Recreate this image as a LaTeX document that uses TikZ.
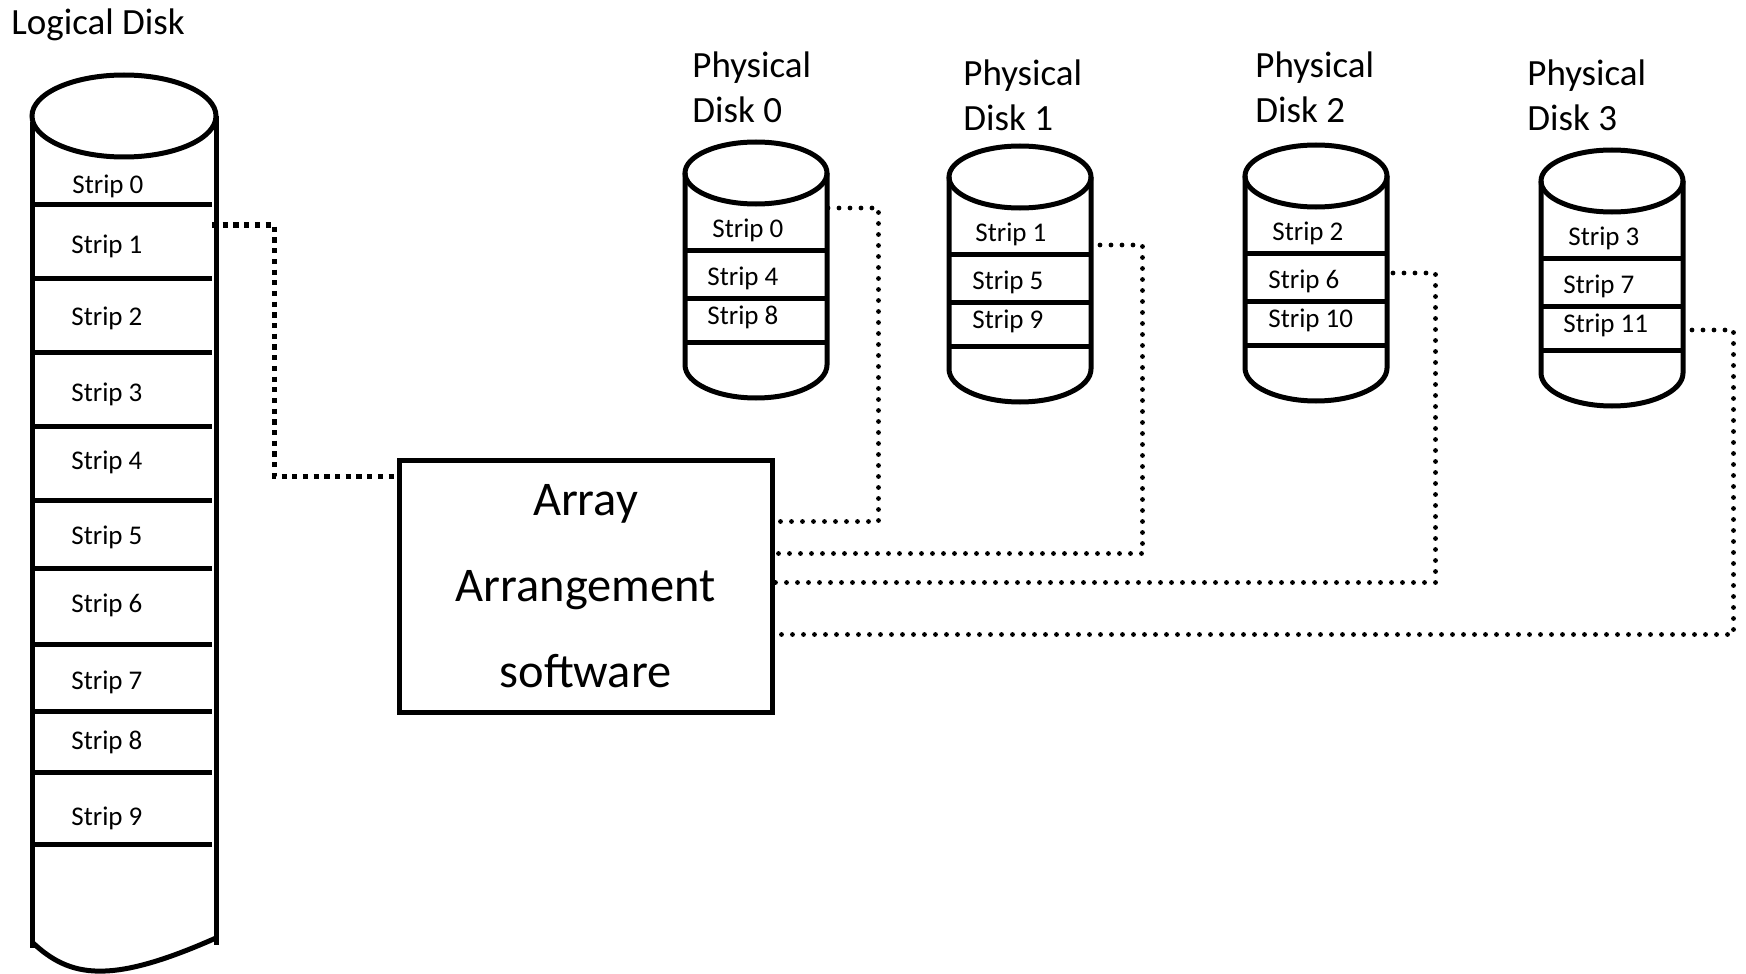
\documentclass[tikz,border=0pt]{standalone}
\usepackage{fontspec}
\setmainfont{Carlito}
\usetikzlibrary{calc}

\tikzset{
  edge/.style={line width=2.5pt},
  strip/.style={font=\fontsize{13.5}{15}\selectfont, anchor=west, inner sep=0pt},
  title/.style={font=\fontsize{18.5}{22.3}\selectfont, align=left, anchor=west, inner sep=0pt},
  dotlink/.style={line width=2.4pt, line cap=round, dash pattern=on 0pt off 5.5pt},
  sqlink/.style={line width=2.7pt, dash pattern=on 2.6pt off 2.75pt},
}

% physical disk: #1 centre x, #2 top of the lid
\newcommand\physdisk[2]{%
  \draw[edge] ({#1},{#2+31}) ellipse [x radius=71, y radius=31];
  \draw[edge] ({#1-71},{#2+31}) -- ({#1-71},{#2+223})
    arc[start angle=180, end angle=0, x radius=71, y radius=33]
    -- ({#1+71},{#2+31});
  \foreach \dy in {108,156,200}
    \draw[edge] ({#1-71},{#2+\dy}) -- ({#1+71},{#2+\dy});
}

\begin{document}
\begin{tikzpicture}[x=0.5pt, y=-0.5pt]
\useasboundingbox (0,0) rectangle (1746,974);

% ---- logical disk ----
\node[title] (ldtitle) at (11,25) {Logical Disk};
\draw[edge] (124,116) ellipse [x radius=92, y radius=41];
\draw[edge] (32,122) -- (32,948);
\draw[edge] (216,116) -- (216,945);
\draw[edge] (32,942) .. controls (70,978) and (110,985) .. (216,938);
\foreach \y in {204,278,352,426,500,568,644,711,772,844}
  \draw[edge] (33,\y) -- (212,\y);
\node[strip] (ls0) at (72,186) {Strip 0};
\node[strip] (ls1) at (71,246) {Strip 1};
\node[strip] (ls2) at (71,318) {Strip 2};
\node[strip] (ls3) at (71,394) {Strip 3};
\node[strip] (ls4) at (71,462) {Strip 4};
\node[strip] (ls5) at (71,537) {Strip 5};
\node[strip] (ls6) at (71,605) {Strip 6};
\node[strip] (ls7) at (71,682) {Strip 7};
\node[strip] (ls8) at (71,742) {Strip 8};
\node[strip] (ls9) at (71,818) {Strip 9};
\coordinate (ldport) at (212,225);

% ---- array arrangement software ----
\node[draw, edge, minimum width=186.5pt, minimum height=126pt, inner sep=0pt,
      align=center, font=\fontsize{24.2}{43}\selectfont]
  (aas) at (585.5,586) {Array\\Arrangement\\software};

% ---- physical disks ----
\node[title] (pd0title) at (692,87) {Physical\\Disk 0};
\physdisk{756}{142}
\node[strip] (p0s0) at (712,230) {Strip 0};
\node[strip] (p0s1) at (707,278) {Strip 4};
\node[strip] (p0s2) at (707,317) {Strip 8};
\coordinate (p0port) at (828,208);

\node[title] (pd1title) at (963,95) {Physical\\Disk 1};
\physdisk{1020}{146}
\node[strip] (p1s0) at (975,234) {Strip 1};
\node[strip] (p1s1) at (972,282) {Strip 5};
\node[strip] (p1s2) at (972,321) {Strip 9};
\coordinate (p1port) at (1100,245);

\node[title] (pd2title) at (1255,87) {Physical\\Disk 2};
\physdisk{1316}{145}
\node[strip] (p2s0) at (1272,233) {Strip 2};
\node[strip] (p2s1) at (1268,281) {Strip 6};
\node[strip] (p2s2) at (1268,320) {Strip 10};
\coordinate (p2port) at (1393,273);

\node[title] (pd3title) at (1527,95) {Physical\\Disk 3};
\physdisk{1612}{150}
\node[strip] (p3s0) at (1568,238) {Strip 3};
\node[strip] (p3s1) at (1563,286) {Strip 7};
\node[strip] (p3s2) at (1563,325) {Strip 11};
\coordinate (p3port) at (1692,330);

% ---- connectors ----
\draw[sqlink] (ldport) -| ($(aas.north west)+(-122,19)$) -- ($(aas.north west)+(0,19)$);
\draw[dotlink] (p0port) -| ($(aas.north east)+(104,64)$) -- ($(aas.north east)+(0,64)$);
\draw[dotlink] (p1port) -| ($(aas.north east)+(368,96)$) -- ($(aas.north east)+(0,96)$);
\draw[dotlink] (p2port) -| ($(aas.north east)+(661,125)$) -- ($(aas.north east)+(0,125)$);
\draw[dotlink] (p3port) -| ($(aas.north east)+(959,177)$) -- ($(aas.north east)+(0,177)$);
\end{tikzpicture}
\end{document}
